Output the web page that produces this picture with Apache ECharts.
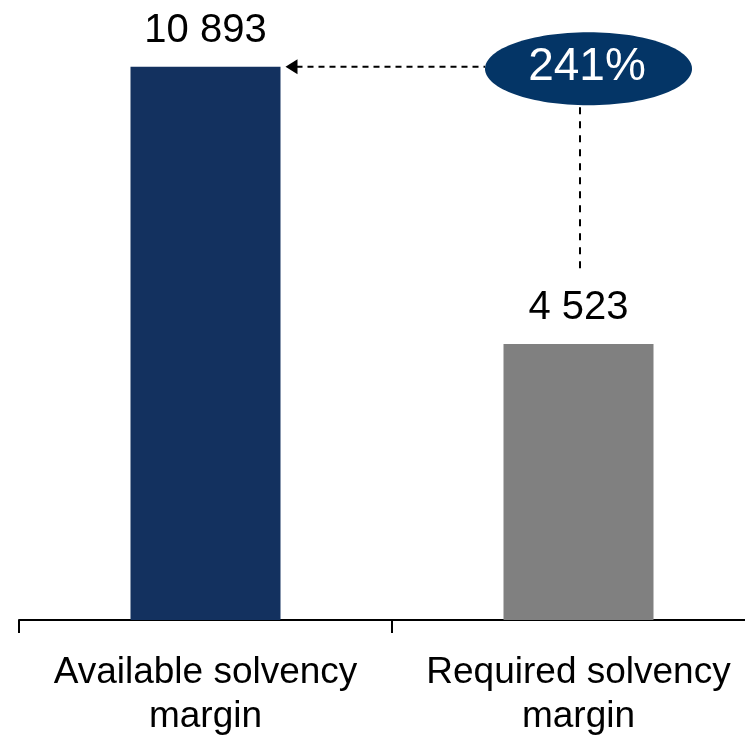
<!DOCTYPE html>
<html><head><meta charset="utf-8">
<script src="https://cdn.jsdelivr.net/npm/echarts@6/dist/echarts.min.js"></script>
<style>html,body{margin:0;padding:0;background:#fff;overflow:hidden}#c{width:745px;height:736px}</style>
</head><body><div id="c"></div>
<script>
const categories = ['Available solvency margin', 'Required solvency margin'];
const values = [10893, 4523];
const barColors = ['#13315f', '#808080'];
const ratioLabel = '241%';

const FONT = '"Liberation Sans", Arial, sans-serif';
function fmt(v){ return String(v).replace(/\B(?=(\d{3})+(?!\d))/g, ' '); }
const chart = echarts.init(document.getElementById('c'), null, {renderer:'canvas'});
chart.setOption({
  animation:false,
  grid:{left:19, width:746, top:0, bottom:116, containLabel:false, outerBoundsMode:'none'},
  xAxis:{type:'category', data:categories,
    axisLine:{show:true, onZero:false, lineStyle:{color:'#000', width:2}},
    axisTick:{show:true, alignWithLabel:false, interval:0, length:13, lineStyle:{color:'#000', width:2}},
    axisLabel:{margin:31, fontSize:37, lineHeight:44, color:'#000', fontFamily:FONT, interval:0,
      formatter: s => s.replace(' solvency ', ' solvency\n')}},
  yAxis:{type:'log', logBase:10, min:1886, max:13460, show:false, splitLine:{show:false}},
  series:[{type:'bar', data: values.map((v,i)=>({value:v, itemStyle:{color:barColors[i]}})),
    barWidth:150, clip:true,
    label:{show:true, position:'top', distance:16, fontSize:40, color:'#000', fontFamily:FONT,
      formatter: p => fmt(p.value)}}]
});
const p1 = chart.convertToPixel({seriesIndex:0}, [0, values[0]]);
const p2 = chart.convertToPixel({seriesIndex:0}, [1, values[1]]);
const half = 75;
const ay = p1[1];
const tipX = p1[0] + half + 5;
const ecx = p2[0] + 10, ecy = ay + 2, erx = 103.5, ery = 36.5;
const vx = p2[0] + 1.5;
chart.setOption({graphic:[
  {type:'line', shape:{x1:tipX+11, y1:ay, x2:ecx-erx, y2:ay}, style:{stroke:'#000', lineWidth:2, lineDash:[6,5]}, z:10},
  {type:'polygon', shape:{points:[[tipX, ay],[tipX+12, ay-7.5],[tipX+12, ay+7.5]]}, style:{fill:'#000'}, z:10},
  {type:'line', shape:{x1:vx, y1:ecy+ery+2, x2:vx, y2:p2[1]-74}, style:{stroke:'#000', lineWidth:2, lineDash:[7,7]}, z:10},
  {type:'ellipse', shape:{cx:ecx, cy:ecy, rx:erx, ry:ery}, style:{fill:'#043566'}, z:11},
  {type:'text', x:ecx-1.5, y:ay+0.5, style:{text:ratioLabel, fill:'#fff', font:'46px "Liberation Sans", Arial, sans-serif', textAlign:'center', textVerticalAlign:'middle'}, z:12}
]});
</script></body></html>
